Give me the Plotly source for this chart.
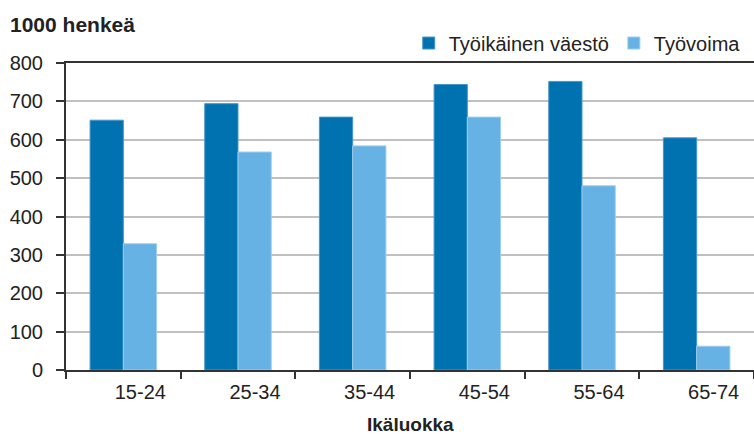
import plotly.graph_objects as go

categories = ["15-24", "25-34", "35-44", "45-54", "55-64", "65-74"]
tyoikainen = [651, 694, 659, 744, 752, 605]
tyovoima = [329, 568, 584, 659, 480, 62]
series_names = ["Työikäinen väestö", "Työvoima"]
y_ticks = [0, 100, 200, 300, 400, 500, 600, 700, 800]

FONT = "Liberation Sans, Arial, sans-serif"
DARK = "rgb(0,114,176)"
LIGHT = "rgb(102,178,228)"
TXT = "#222222"

fig = go.Figure()
fig.add_trace(go.Bar(x=categories, y=tyoikainen, name=series_names[0],
                     marker=dict(color=DARK, line=dict(color="rgb(70,150,205)", width=1))))
fig.add_trace(go.Bar(x=categories, y=tyovoima, name=series_names[1],
                     marker=dict(color=LIGHT, line=dict(color="rgb(160,205,235)", width=1))))

fig.update_layout(
    width=754, height=435,
    margin=dict(l=66, r=0, t=63, b=65, autoexpand=False),
    paper_bgcolor="white", plot_bgcolor="white",
    barmode="group", bargap=0.42, bargroupgap=0,
    font=dict(family=FONT, size=20, color=TXT),
    showlegend=True,
    legend=dict(orientation="h", x=0.988, xanchor="right", y=1.065, yanchor="middle",
                font=dict(size=20, color=TXT), bgcolor="rgba(0,0,0,0)",
                itemwidth=30, traceorder="normal"),
    xaxis=dict(type="category", range=[-0.5, 5.5], showgrid=False,
               showline=True, linecolor="#333333", linewidth=2, mirror=True,
               ticks="outside", ticklen=7, tickwidth=2, tickcolor="#333333",
               tickson="boundaries", ticklabelshift=17, ticklabelstandoff=3,
               tickfont=dict(size=20, color=TXT)),
    yaxis=dict(range=[0, 800], tickvals=y_ticks, showgrid=True,
               gridcolor="#c0c0c0", gridwidth=2, zeroline=False,
               showline=True, linecolor="#333333", linewidth=2,
               ticks="outside", ticklen=8, tickwidth=2, tickcolor="#333333",
               ticklabelstandoff=9, tickfont=dict(size=20, color=TXT)),
    annotations=[
        dict(text="<b>1000 henkeä</b>", xref="paper", yref="paper",
             x=-0.084, y=1.124, xanchor="left", yanchor="middle", showarrow=False,
             font=dict(family=FONT, size=21, color=TXT)),
        dict(text="<b>Ikäluokka</b>", xref="paper", yref="paper",
             x=0.5, y=-0.178, xanchor="center", yanchor="middle", showarrow=False,
             font=dict(family=FONT, size=19, color=TXT)),
    ],
)

fig.write_html("out.html", config={"displayModeBar": False},
               post_script="document.body.style.margin='0';")
